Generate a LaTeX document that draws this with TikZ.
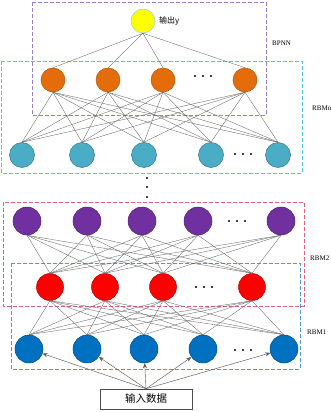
\documentclass[tikz,border=0pt]{standalone}
\usepackage{fontspec}
\setmainfont{Liberation Serif}
\newfontfamily\cjk{Noto Sans CJK SC}
\usetikzlibrary{arrows.meta}

\definecolor{cYel}{HTML}{FFFF00}
\definecolor{cOra}{HTML}{E46C0A}
\definecolor{cTea}{HTML}{4BACC6}
\definecolor{cPur}{HTML}{7030A0}
\definecolor{cRed}{HTML}{FF0000}
\definecolor{cBlu}{HTML}{0070C0}
\definecolor{fPur}{HTML}{9A7FC0}
\definecolor{fTea}{HTML}{4CC8E2}
\definecolor{fRed}{HTML}{E0607A}
\definecolor{fBlu}{HTML}{4E9AD8}

\begin{document}
\begin{tikzpicture}[x=1pt, y=-1pt,
  unit/.style={circle, inner sep=0pt, minimum size=24pt, line width=0.5pt},
  link/.style={draw=black!60, line width=0.35pt},
  feed/.style={draw=black!65, line width=0.45pt, -{Stealth[length=5pt, width=4pt]}},
  frame/.style={dash pattern=on 4pt off 2pt, line width=0.7pt},
  tag/.style={font=\fontsize{7}{8}\selectfont, anchor=west, inner sep=0pt}]
				\useasboundingbox (0,0) rectangle (330,412);

				% Dashed frames
				\draw[frame, fPur] (32,2) rectangle (266,115);
				\draw[frame, fTea] (1,61) rectangle (302,173);
				\draw[frame, fRed] (3,202) rectangle (304,306);
				\draw[frame, fBlu] (11,263) rectangle (300,369);
				\node[tag] (lbpnn) at (272,43) {BPNN};
				\node[tag] (lrbmn) at (312,108) {RBMn};
				\node[tag] (lrbm2) at (310,258) {RBM2};
				\node[tag] (lrbm1) at (307,332) {RBM1};

				% Output
				\node[unit, fill=cYel, draw=cTea!60] (out) at (143,21) {};
				\node[anchor=west, inner sep=0pt, font=\cjk\fontsize{8}{9}\selectfont] (ylab) at (159,21) {输出y};

				% RBMn hidden (orange) and visible (teal)
				\foreach \x [count=\i] in {53, 108, 163, 245}
					\node[unit, fill=cOra, draw=cOra!80!black] (o\i) at (\x,80) {};
				\foreach \x [count=\i] in {22, 82, 144, 211, 278}
					\node[unit, minimum size=25pt, fill=cTea, draw=cTea!70!black] (t\i) at (\x,155) {};

				% RBM2 hidden (purple) and RBM1 hidden (red)
				\foreach \x [count=\i] in {27, 87, 142, 198, 281}
					\node[unit, minimum size=28pt, fill=cPur, draw=cPur!70!black] (p\i) at (\x,221) {};
				\foreach \x [count=\i] in {50, 105, 163, 252}
					\node[unit, minimum size=27pt, fill=cRed, draw=cRed!70!black] (r\i) at (\x,287) {};

				% RBM1 visible (blue)
				\foreach \x [count=\i] in {29, 87, 144, 203, 284}
					\node[unit, minimum size=28pt, fill=cBlu, draw=cBlu!70!black] (b\i) at (\x,349) {};

				% Ellipsis dots
				\foreach \x/\y in {195/76, 203/76, 211/76, 235/154, 243/154, 251/154,
				                   229/221, 237/221, 245/221, 196/287, 204/287, 212/287,
				                   235/350, 243/350, 251/350, 147/178, 147/187, 147/197}
					\fill (\x,\y) circle (1.1);

				% Connections
				\foreach \i in {1,...,4}
					\draw[link] (out.south) -- (o\i.north);
				\foreach \i in {1,...,4}
					\foreach \j in {1,...,5}
						\draw[link] (o\i.south) -- (t\j.north);
				\foreach \i in {1,...,5}
					\foreach \j in {1,...,4}
						\draw[link] (p\i.south) -- (r\j.north);
				\foreach \i in {1,...,4}
					\foreach \j in {1,...,5}
						\draw[link] (r\i.south) -- (b\j.north);

				% Input
				\node[draw=black!70, line width=0.5pt, minimum width=92pt, minimum height=20pt,
				      inner sep=0pt, font=\cjk\fontsize{10.5}{12}\selectfont] (in) at (146,399) {输入数据};
				\foreach \j in {1,...,5}
					\draw[feed] (in.north) -- (b\j);
			\end{tikzpicture}
\end{document}
